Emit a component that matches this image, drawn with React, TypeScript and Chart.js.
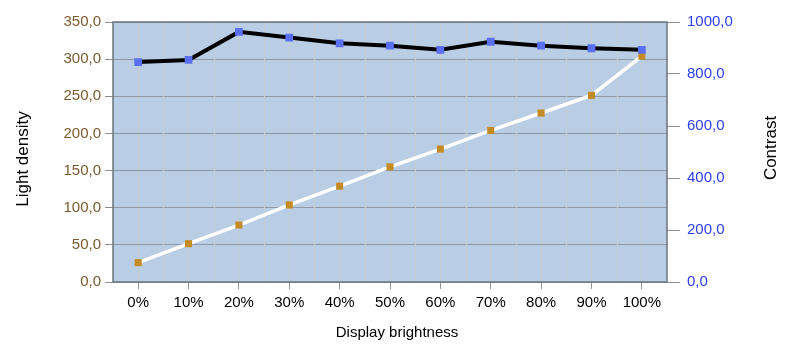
import React, { useEffect, useRef } from "react";
import { Chart, registerables } from "chart.js";

Chart.register(...registerables);

const categories = ["0%", "10%", "20%", "30%", "40%", "50%", "60%", "70%", "80%", "90%", "100%"];
const contrast = [846, 854, 962, 940, 918, 909, 893, 924, 909, 899, 893];
const lightDensity = [26.0, 51.6, 76.7, 103.7, 129, 155, 179, 204, 227.5, 251.3, 304];
const leftTicks = [0, 50, 100, 150, 200, 250, 300, 350];
const rightTicks = [0, 200, 400, 600, 800, 1000];

const FONT = "'Liberation Sans', Arial, Helvetica, sans-serif";
const fmt = (v: number) => v.toFixed(1).replace(".", ",");

const decorPlugin = {
  id: "decor",
  beforeDraw(chart: any) {
    const { ctx, chartArea: a } = chart;
    ctx.save();
    ctx.fillStyle = "#b9cde4";
    ctx.fillRect(a.left, a.top, a.right - a.left, a.bottom - a.top);
    ctx.restore();
  },
  beforeDatasetsDraw(chart: any) {
    const { ctx, chartArea: a } = chart;
    const xs = chart.scales.x;
    ctx.save();
    ctx.strokeStyle = "#c6ccd3";
    ctx.lineWidth = 1;
    const n = categories.length;
    for (let i = 0; i < n - 1; i++) {
      const p = (xs.getPixelForValue(i) + xs.getPixelForValue(i + 1)) / 2;
      const px = Math.round(p) + 0.5;
      ctx.beginPath();
      ctx.moveTo(px, a.top);
      ctx.lineTo(px, a.bottom);
      ctx.stroke();
    }
    ctx.strokeStyle = "#6e747c";
    ctx.lineWidth = 1.5;
    ctx.strokeRect(a.left, a.top, a.right - a.left, a.bottom - a.top);
    ctx.restore();
  },
  afterDraw(chart: any) {
    const { ctx } = chart;
    ctx.save();
    ctx.fillStyle = "#000";
    ctx.textAlign = "center";
    ctx.textBaseline = "middle";
    ctx.font = `17px ${FONT}`;
    ctx.save();
    ctx.translate(23, 159);
    ctx.rotate(-Math.PI / 2);
    ctx.fillText("Light density", 0, 0);
    ctx.restore();
    ctx.save();
    ctx.translate(771, 148);
    ctx.rotate(-Math.PI / 2);
    ctx.fillText("Contrast", 0, 0);
    ctx.restore();
    ctx.font = `15px ${FONT}`;
    ctx.fillText("Display brightness", 397, 333);
    ctx.restore();
  },
};

export default function App() {
  const ref = useRef<HTMLCanvasElement | null>(null);
  useEffect(() => {
    if (!ref.current) return;
    const chart = new Chart(ref.current, {
      type: "line",
      data: {
        labels: categories,
        datasets: [
          {
            label: "Contrast",
            data: contrast,
            yAxisID: "y1",
            borderColor: "#000000",
            borderWidth: 4,
            pointStyle: "rect",
            pointRadius: 5.5,
            pointBackgroundColor: "#5a6ff2",
            pointBorderColor: "#5a6ff2",
            pointBorderWidth: 0,
            tension: 0,
          },
          {
            label: "Light density",
            data: lightDensity,
            yAxisID: "y",
            borderColor: "#ffffff",
            borderWidth: 3.5,
            pointStyle: "rect",
            pointRadius: 5,
            pointBackgroundColor: "#c48b22",
            pointBorderColor: "#c48b22",
            pointBorderWidth: 0,
            tension: 0,
          },
        ],
      },
      options: {
        animation: false,
        responsive: false,
        maintainAspectRatio: false,
        layout: { padding: { top: 22, left: 0, right: 0, bottom: 0 } },
        plugins: { legend: { display: false }, tooltip: { enabled: false } },
        scales: {
          x: {
            type: "category",
            offset: true,
            grid: {
              offset: false,
              color: "#c6ccd3",
              tickColor: "#8a8f96",
              tickLength: 7,
              drawOnChartArea: true,
            },
            border: { display: false },
            ticks: { color: "#000", font: { family: FONT, size: 15 }, padding: 5, maxRotation: 0 },
            afterFit: (s: any) => { s.height = 71; },
          },
          y: {
            position: "left",
            min: 0,
            max: 350,
            afterBuildTicks: (s: any) => { s.ticks = leftTicks.map((v) => ({ value: v })); },
            grid: { color: "#8f99a6", tickColor: "#8a8f96", tickLength: 8, lineWidth: 1 },
            border: { display: false },
            ticks: { color: "#7a5a2c", font: { family: FONT, size: 15 }, padding: 4, callback: (v: any) => fmt(Number(v)) },
            afterFit: (s: any) => { s.width = 113; },
          },
          y1: {
            position: "right",
            min: 0,
            max: 1000,
            afterBuildTicks: (s: any) => { s.ticks = rightTicks.map((v) => ({ value: v })); },
            grid: { drawOnChartArea: false, tickColor: "#8a8f96", tickLength: 13, color: "#8a8f96" },
            border: { display: false },
            ticks: { color: "#2a3df2", font: { family: FONT, size: 15 }, padding: 7, callback: (v: any) => fmt(Number(v)) },
            afterFit: (s: any) => { s.width = 133; },
          },
        },
      },
      plugins: [decorPlugin],
    } as any);
    return () => chart.destroy();
  }, []);
  return (
    <div style={{ position: "fixed", left: 0, top: 0, width: 800, height: 353, background: "#fff" }}>
      <canvas ref={ref} width={800} height={353} style={{ width: 800, height: 353, display: "block" }} />
    </div>
  );
}
